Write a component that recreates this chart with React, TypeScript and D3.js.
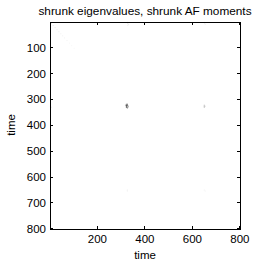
import React from "react";
import * as d3 from "d3";

// sparse image cells (row, col, intensity 0..1) on an 800x800 matrix
const cellRows = [
  316, 316, 320, 320, 320, 324, 324, 324, 328, 328, 328, 332,
  320, 324, 328, 324,
  324, 328,
  648, 652,
  648, 652,
  0, 4, 8, 12, 0, 4, 8,
  324, 328, 652,
  4, 12, 20, 28, 36, 44, 52, 60, 70, 80, 90, 100,
];
const cellCols = [
  320, 324, 316, 320, 324, 320, 324, 328, 320, 324, 328, 324,
  648, 648, 648, 652,
  324, 328,
  324, 324,
  648, 652,
  324, 326, 328, 326, 648, 650, 652,
  0, 4, 0,
  4, 12, 20, 28, 36, 44, 52, 60, 70, 80, 90, 100,
];
const cellValues = [
  0.35, 0.5, 0.3, 0.9, 0.95, 0.85, 1.0, 0.55, 0.7, 0.85, 0.4, 0.35,
  0.25, 0.4, 0.3, 0.15,
  0.06, 0.04,
  0.08, 0.06,
  0.06, 0.05,
  0.12, 0.1, 0.08, 0.06, 0.08, 0.07, 0.05,
  0.12, 0.08, 0.06,
  0.1, 0.09, 0.08, 0.07, 0.07, 0.06, 0.06, 0.05, 0.05, 0.04, 0.04, 0.03,
];
const cellSize = 4;

const xTicks = [200, 400, 600, 800];
const yTicks = [100, 200, 300, 400, 500, 600, 700, 800];
const titleText = "shrunk eigenvalues, shrunk AF moments";
const xLabel = "time";
const yLabel = "time";

export default function App() {
  const W = 265, H = 265;
  const left = 50, right = 240, top = 22, bottom = 229;
  const x = d3.scaleLinear().domain([0.5, 800.5]).range([left, right]);
  const y = d3.scaleLinear().domain([0.5, 800.5]).range([top, bottom]);
  const color = d3.scaleLinear<string>().domain([0, 1]).range(["#ffffff", "#000000"]);
  const font = "'Liberation Sans', Arial, sans-serif";
  const tick = 3;
  return (
    <svg width={W} height={H} style={{ position: "fixed", left: 0, top: 0, background: "#fff" }}>
      <rect x={0} y={0} width={W} height={H} fill="#fff" />
      <g>
        {cellValues.map((v, i) => (
          <rect
            key={i}
            x={x(cellCols[i])}
            y={y(cellRows[i])}
            width={x(cellCols[i] + cellSize) - x(cellCols[i])}
            height={y(cellRows[i] + cellSize) - y(cellRows[i])}
            fill={color(v)}
          />
        ))}
      </g>
      <rect x={left} y={top} width={right - left} height={bottom - top} fill="none" stroke="#000" strokeWidth={1} shapeRendering="crispEdges" />
      {xTicks.map((t) => (
        <g key={"x" + t}>
          <line x1={x(t)} x2={x(t)} y1={bottom} y2={bottom - tick} stroke="#000" shapeRendering="crispEdges" />
          <line x1={x(t)} x2={x(t)} y1={top} y2={top + tick} stroke="#000" shapeRendering="crispEdges" />
          <text x={x(t)} y={243} fontSize={11.5} fontFamily={font} textAnchor="middle">{t}</text>
        </g>
      ))}
      {yTicks.map((t) => (
        <g key={"y" + t}>
          <line x1={left} x2={left + tick} y1={y(t)} y2={y(t)} stroke="#000" shapeRendering="crispEdges" />
          <line x1={right} x2={right - tick} y1={y(t)} y2={y(t)} stroke="#000" shapeRendering="crispEdges" />
          <text x={46} y={y(t) + 4} fontSize={11.5} fontFamily={font} textAnchor="end">{t}</text>
        </g>
      ))}
      <text x={145} y={15} fontSize={11.8} fontFamily={font} textAnchor="middle">{titleText}</text>
      <text x={145} y={259} fontSize={11.5} fontFamily={font} textAnchor="middle">{xLabel}</text>
      <text transform={`translate(15,125) rotate(-90)`} fontSize={11.5} fontFamily={font} textAnchor="middle">{yLabel}</text>
    </svg>
  );
}
